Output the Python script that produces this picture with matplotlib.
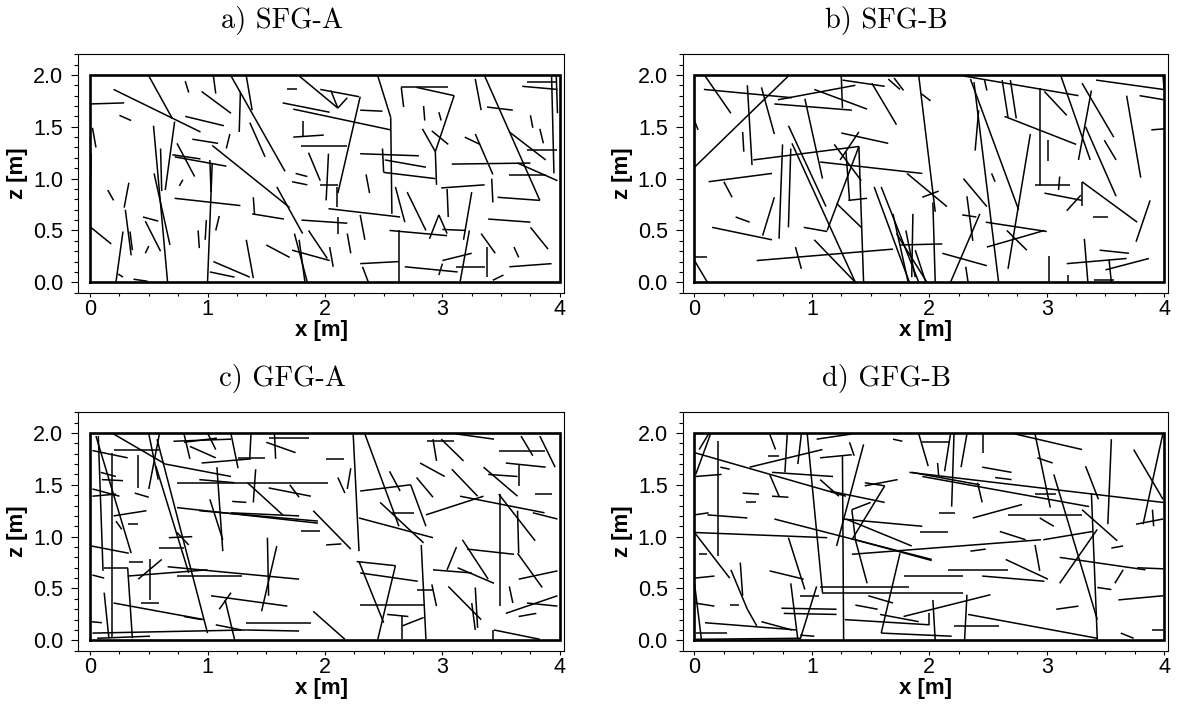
import numpy as np
import matplotlib
matplotlib.use("Agg")
import matplotlib.pyplot as plt
from matplotlib.collections import LineCollection
from matplotlib.ticker import MultipleLocator, FormatStrFormatter

plt.rcParams['font.family'] = ['Liberation Sans', 'DejaVu Sans']

# domain size [m]
domain_w = 4.0
domain_h = 2.0

titles = ["a) SFG-A", "b) SFG-B", "c) GFG-A", "d) GFG-B"]

# fracture traces: x0, z0, x1, z1  (m)
sfg_a = [
    [0.20, 1.86, 0.94, 1.45], [0.50, 1.99, 0.70, 1.58], [0.72, 1.55, 0.64, 0.89],
    [0.006, 1.72, 0.29, 1.73], [0.25, 1.61, 0.35, 1.56], [0.02, 1.49, 0.05, 1.30],
    [0.01, 1.24, 0.00, 0.79], [0.54, 1.51, 0.66, 0.0], [0.60, 1.29, 0.61, 0.88],
    [0.545, 1.05, 0.68, 0.36], [0.74, 1.34, 0.89, 1.02], [0.70, 1.23, 0.94, 1.19],
    [0.15, 0.89, 0.20, 0.79], [0.33, 0.96, 0.29, 0.72], [0.30, 0.70, 0.35, 0.26],
    [0.45, 0.63, 0.58, 0.59], [0.47, 0.59, 0.60, 0.30], [0.006, 0.53, 0.18, 0.37],
    [0.28, 0.49, 0.22, 0.0], [0.24, 0.08, 0.28, 0.05], [0.37, 0.03, 0.49, 0.01],
    [0.47, 0.28, 0.50, 0.35], [0.76, 0.93, 0.79, 0.99], [0.34, 0.49, 0.36, 0.31],
    [0.81, 1.60, 1.14, 1.51], [0.81, 1.94, 0.84, 1.83], [0.95, 1.84, 1.20, 1.63],
    [1.05, 1.99, 1.07, 1.82], [1.20, 1.99, 1.66, 1.07], [1.28, 1.84, 1.27, 1.45],
    [1.33, 1.99, 1.38, 1.66], [1.36, 1.54, 1.49, 1.21], [0.87, 1.38, 1.09, 1.34],
    [1.04, 1.32, 1.70, 0.72], [0.72, 1.21, 1.16, 1.12], [1.19, 1.43, 1.16, 1.29],
    [1.02, 1.18, 1.03, 0.87], [0.72, 0.81, 1.28, 0.74], [1.04, 1.15, 1.00, 0.0],
    [0.99, 0.60, 0.98, 0.41], [0.92, 0.50, 0.93, 0.33], [1.10, 0.64, 1.07, 0.50],
    [1.05, 0.20, 1.36, 0.05], [1.02, 0.10, 1.23, 0.05], [1.39, 0.82, 1.40, 0.66],
    [1.38, 0.66, 1.65, 0.61], [1.33, 0.41, 1.39, 0.04], [1.50, 0.36, 1.70, 0.24],
    [1.59, 0.92, 1.81, 0.47], [1.74, 0.47, 1.85, 0.0], [1.78, 0.41, 1.83, 0.0],
    [1.72, 0.31, 2.04, 0.21], [1.86, 0.50, 2.02, 0.23], [1.80, 0.60, 2.19, 0.57],
    [1.81, 1.56, 1.81, 1.40], [1.73, 1.40, 1.99, 1.42], [1.80, 1.31, 2.19, 1.31],
    [1.75, 1.05, 1.85, 1.02], [1.72, 0.97, 1.85, 0.94], [1.86, 1.25, 1.96, 0.98],
    [1.96, 0.94, 2.11, 0.94], [2.10, 0.92, 2.10, 0.73], [2.03, 1.24, 2.01, 0.79],
    [2.03, 0.71, 2.64, 0.63], [2.11, 0.63, 2.11, 0.47], [2.04, 0.34, 2.07, 0.15],
    [2.19, 0.47, 2.22, 0.28], [2.30, 0.65, 2.34, 0.41], [2.30, 1.24, 2.80, 1.22],
    [2.35, 1.04, 2.38, 0.86], [2.49, 1.29, 2.50, 1.06], [2.50, 1.06, 2.94, 1.00],
    [2.51, 1.18, 2.86, 1.11], [2.55, 0.50, 3.04, 0.45], [2.63, 0.50, 2.63, 0.0],
    [2.30, 0.18, 2.63, 0.20], [2.32, 0.15, 2.37, 0.0], [2.60, 0.92, 2.68, 0.58],
    [2.70, 0.87, 2.86, 0.50], [2.68, 0.15, 3.13, 0.10], [2.89, 0.42, 2.97, 0.65],
    [2.97, 0.65, 3.04, 0.47], [3.00, 0.51, 3.20, 0.50], [3.04, 0.90, 3.05, 0.63],
    [3.00, 0.21, 3.25, 0.28], [2.97, 0.07, 3.00, 0.18], [3.12, 0.15, 3.36, 0.15],
    [3.15, 0.0, 3.23, 0.50], [3.33, 0.47, 3.45, 0.28], [3.38, 0.34, 3.38, 0.05],
    [3.25, 0.87, 3.18, 0.41], [3.39, 0.61, 3.75, 0.58], [3.57, 0.15, 3.93, 0.18],
    [3.61, 0.34, 3.65, 0.24], [3.75, 0.53, 3.90, 0.32], [3.43, 0.02, 3.52, 0.07],
    [2.94, 1.26, 2.95, 0.94], [2.65, 1.88, 3.05, 1.88], [2.65, 1.88, 2.67, 1.69],
    [2.78, 1.88, 3.10, 1.80], [3.10, 1.80, 2.94, 1.26], [2.83, 1.48, 2.94, 1.26],
    [2.84, 1.70, 2.85, 1.56], [2.97, 1.64, 2.99, 1.56], [2.91, 1.46, 3.05, 1.33],
    [3.19, 1.40, 3.32, 1.33], [3.28, 1.43, 3.43, 1.04], [3.28, 1.96, 3.33, 1.66],
    [3.36, 1.99, 3.83, 0.79], [3.47, 0.82, 3.83, 0.79], [3.42, 1.00, 3.43, 0.77],
    [3.38, 1.69, 3.60, 1.66], [3.57, 1.45, 3.88, 1.18], [3.72, 1.28, 3.98, 1.28],
    [3.72, 1.93, 3.98, 1.93], [3.68, 1.89, 3.98, 1.86], [3.93, 1.99, 3.95, 1.05],
    [3.97, 1.99, 3.98, 1.63], [3.75, 1.61, 3.77, 1.49], [3.83, 1.48, 3.86, 1.34],
    [3.08, 1.14, 3.75, 1.15], [3.64, 1.15, 3.98, 0.98], [3.57, 1.03, 3.88, 1.03],
    [2.99, 0.91, 3.36, 0.94], [1.78, 1.99, 2.11, 1.68], [1.96, 1.86, 2.29, 1.79],
    [2.05, 1.85, 2.11, 1.68], [2.11, 1.68, 2.19, 1.78], [2.30, 1.79, 2.11, 0.86],
    [2.30, 1.66, 2.49, 1.65], [2.45, 1.99, 2.56, 1.59], [2.56, 1.59, 2.57, 0.66],
    [1.64, 1.73, 2.04, 1.64], [1.73, 1.67, 2.56, 1.47], [1.68, 1.86, 1.76, 1.86],
]

sfg_b = [
    [0.0, 1.11, 0.80, 1.99], [0.09, 1.99, 0.31, 1.63], [0.08, 1.86, 0.83, 1.78],
    [0.0, 1.56, 0.03, 1.47], [0.0, 0.24, 0.11, 0.24], [0.0, 0.21, 0.11, 0.0],
    [0.45, 1.90, 0.49, 1.13], [0.41, 1.45, 0.42, 1.26], [0.57, 1.88, 0.68, 1.43],
    [0.68, 1.72, 1.34, 1.66], [0.71, 1.76, 1.37, 1.90], [1.02, 1.86, 1.47, 1.67],
    [0.94, 1.77, 1.09, 1.00], [1.25, 1.99, 1.26, 1.68], [1.26, 1.95, 1.62, 1.89],
    [1.51, 1.92, 1.72, 1.52], [1.65, 1.96, 1.75, 1.86], [1.70, 1.97, 1.78, 1.85],
    [1.91, 1.99, 2.05, 0.68], [1.93, 1.82, 2.01, 1.75], [1.25, 1.44, 1.65, 1.34],
    [1.40, 1.45, 1.24, 1.18], [0.50, 1.18, 1.40, 1.31], [0.75, 1.33, 0.72, 0.42],
    [0.80, 1.51, 1.12, 0.73], [0.82, 1.29, 0.80, 0.53], [0.83, 1.34, 1.37, 0.0],
    [1.07, 1.16, 1.94, 1.05], [1.13, 0.50, 1.40, 1.31], [1.40, 1.31, 1.44, 0.0],
    [1.19, 1.33, 1.42, 0.98], [1.29, 1.26, 1.32, 0.79], [1.31, 0.79, 1.47, 0.81],
    [1.21, 0.76, 1.42, 0.53], [0.93, 0.53, 1.13, 0.49], [1.02, 0.41, 1.37, 0.0],
    [0.12, 0.97, 0.66, 1.05], [0.25, 0.97, 0.32, 0.82], [0.15, 0.53, 0.66, 0.41],
    [0.35, 0.63, 0.47, 0.58], [0.58, 0.45, 0.68, 0.82], [0.53, 0.21, 1.69, 0.32],
    [0.86, 0.34, 0.91, 0.13], [1.53, 0.92, 1.83, 0.0], [1.59, 0.92, 1.91, 0.0],
    [1.69, 0.66, 1.82, 0.0], [1.72, 0.47, 1.98, 0.0], [1.86, 0.66, 1.85, 0.05],
    [1.75, 0.36, 2.11, 0.37], [1.80, 0.50, 1.88, 0.05], [1.88, 0.31, 1.97, 0.0],
    [1.81, 1.05, 2.15, 0.73], [1.94, 0.82, 2.08, 0.88], [2.03, 0.77, 2.05, 0.0],
    [2.11, 0.28, 2.49, 0.16], [2.18, 0.0, 2.43, 0.66], [2.29, 1.00, 2.49, 0.73],
    [2.32, 0.83, 2.37, 0.40], [2.28, 0.65, 2.40, 0.63], [2.31, 0.15, 2.33, 0.0],
    [2.29, 1.99, 3.27, 1.80], [2.35, 1.96, 2.76, 0.70], [2.47, 1.95, 2.49, 1.85],
    [2.62, 1.95, 2.67, 1.59], [2.69, 1.95, 2.74, 1.58], [2.42, 1.66, 2.39, 1.27],
    [2.38, 1.93, 2.59, 0.0], [2.48, 0.58, 3.00, 0.49], [2.49, 0.34, 2.98, 0.50],
    [2.53, 1.05, 2.56, 0.97], [2.64, 1.60, 3.25, 1.33], [2.66, 0.50, 2.83, 0.31],
    [2.67, 0.13, 2.86, 1.43], [2.90, 0.94, 3.20, 0.94], [2.94, 1.87, 2.94, 0.94],
    [2.98, 1.84, 3.17, 1.61], [3.01, 1.37, 3.01, 1.17], [2.98, 0.86, 3.30, 0.79],
    [3.11, 1.02, 3.10, 0.89], [3.02, 0.25, 3.02, 0.0], [3.12, 1.99, 3.37, 1.18],
    [3.17, 0.69, 3.29, 0.84], [3.30, 1.92, 3.57, 1.40], [3.38, 1.85, 3.27, 1.18],
    [3.33, 1.50, 3.59, 0.83], [3.30, 0.97, 3.30, 0.74], [3.30, 0.97, 3.77, 0.58],
    [3.39, 0.63, 3.52, 0.63], [3.49, 1.37, 3.59, 1.18], [3.68, 1.80, 3.80, 1.01],
    [3.79, 1.80, 4.0, 1.76], [3.42, 1.95, 3.99, 1.86], [3.89, 1.47, 4.0, 1.48],
    [3.99, 1.99, 4.0, 1.85], [3.76, 0.39, 3.88, 0.79], [3.32, 0.42, 3.35, 0.0],
    [3.17, 0.18, 3.68, 0.23], [3.45, 0.31, 3.70, 0.28], [3.50, 0.12, 3.87, 0.23],
    [3.53, 0.22, 3.55, 0.0], [3.40, 0.02, 3.57, 0.02], [3.18, 0.07, 3.18, 0.0],
]

gfg_a = [
    [0.07, 1.97, 0.11, 0.67], [0.05, 1.97, 0.35, 0.84], [0.02, 1.83, 0.32, 1.76],
    [0.20, 1.99, 0.64, 1.70], [0.20, 1.84, 0.59, 1.84], [0.19, 1.81, 0.19, 0.02],
    [0.50, 1.99, 0.58, 1.55], [0.59, 1.99, 0.50, 1.46], [0.57, 1.94, 1.00, 0.07],
    [0.56, 1.68, 0.84, 0.65], [0.64, 1.70, 1.20, 1.58], [0.41, 1.79, 0.41, 1.47],
    [0.71, 1.92, 1.20, 1.94], [0.80, 1.99, 0.85, 1.75], [0.80, 1.91, 1.08, 1.95],
    [0.85, 1.87, 1.07, 1.76], [0.95, 1.71, 1.37, 1.75], [1.00, 2.0, 1.07, 1.84],
    [1.20, 1.99, 1.26, 1.66], [1.37, 1.99, 1.36, 1.76], [1.26, 1.76, 1.49, 1.76],
    [1.50, 1.91, 1.75, 1.81], [1.52, 1.95, 1.86, 1.95], [1.57, 1.99, 1.58, 1.75],
    [1.08, 1.67, 1.13, 0.86], [0.93, 1.55, 1.23, 1.52], [0.74, 1.52, 2.03, 1.52],
    [1.34, 1.52, 1.64, 1.21], [1.41, 1.65, 1.39, 1.33], [1.70, 1.50, 1.78, 1.38],
    [1.52, 1.47, 1.88, 1.39], [1.21, 1.34, 1.33, 1.33], [0.74, 1.28, 1.94, 1.13],
    [0.93, 1.25, 1.94, 1.15], [1.02, 1.36, 1.13, 0.97], [1.20, 1.23, 1.78, 1.20],
    [1.90, 1.25, 2.22, 0.88], [1.80, 1.05, 1.96, 1.05], [2.01, 0.92, 2.14, 0.93],
    [2.01, 1.75, 2.16, 1.75], [2.11, 1.57, 2.17, 1.42], [2.24, 2.0, 2.29, 0.86],
    [2.34, 1.99, 2.63, 1.10], [2.22, 1.66, 2.19, 1.46], [2.30, 1.44, 2.73, 1.50],
    [2.29, 1.18, 2.92, 0.99], [2.47, 1.33, 2.84, 0.94], [2.55, 1.63, 2.64, 1.44],
    [2.56, 1.23, 2.76, 1.23], [2.73, 1.50, 2.86, 1.10], [2.81, 1.71, 3.02, 1.58],
    [2.78, 1.57, 2.92, 1.38], [2.92, 1.94, 2.95, 1.73], [2.87, 1.92, 3.10, 1.92],
    [3.12, 1.99, 3.44, 1.94], [2.99, 1.94, 3.18, 1.73], [2.86, 1.21, 3.35, 1.39],
    [3.15, 1.39, 3.87, 1.23], [3.08, 1.65, 3.30, 1.39], [3.35, 1.67, 3.64, 1.39],
    [3.39, 1.60, 3.64, 1.58], [3.48, 1.41, 3.79, 0.96], [3.77, 1.23, 3.98, 1.17],
    [3.67, 1.97, 3.77, 1.78], [3.48, 1.83, 3.87, 1.83], [3.54, 1.71, 3.88, 1.67],
    [3.83, 1.97, 3.96, 1.67], [3.65, 1.70, 3.65, 1.49], [3.79, 1.41, 3.93, 1.41],
    [3.64, 1.25, 3.65, 0.84], [3.64, 0.84, 3.85, 0.51], [3.65, 0.59, 3.98, 0.67],
    [3.49, 1.41, 3.49, 0.33], [3.17, 0.97, 3.39, 0.59], [3.21, 0.88, 3.61, 0.83],
    [3.04, 0.68, 3.12, 0.90], [2.92, 0.68, 3.25, 0.65], [3.13, 0.70, 3.44, 0.55],
    [3.05, 0.52, 3.33, 0.20], [3.25, 0.36, 3.28, 0.10], [3.28, 0.51, 3.30, 0.12],
    [3.54, 0.26, 3.98, 0.43], [3.65, 0.23, 3.80, 0.26], [3.72, 0.36, 3.98, 0.33],
    [3.44, 0.10, 3.83, 0.01], [3.43, 0.10, 3.43, 0.0], [2.82, 0.92, 2.86, 0.01],
    [2.78, 0.49, 2.92, 0.49], [2.91, 0.54, 2.95, 0.33], [2.66, 0.23, 2.66, 0.01],
    [2.66, 0.14, 2.84, 0.22], [2.30, 0.34, 2.84, 0.34], [2.29, 0.76, 2.50, 0.17],
    [2.60, 0.72, 2.45, 0.01], [2.30, 0.65, 2.79, 0.57], [2.27, 0.76, 2.60, 0.72],
    [2.53, 0.25, 2.71, 0.23], [1.90, 0.28, 2.17, 0.01], [1.33, 0.17, 1.88, 0.17],
    [1.33, 0.10, 1.78, 0.09], [1.07, 0.15, 1.29, 0.10], [1.51, 0.99, 1.52, 0.43],
    [1.59, 0.91, 1.46, 0.28], [1.03, 0.43, 1.68, 0.33], [0.66, 0.71, 1.78, 0.59],
    [0.74, 0.62, 1.29, 0.62], [1.20, 0.46, 1.10, 0.30], [1.15, 0.39, 1.23, 0.01],
    [0.41, 0.59, 0.61, 0.78], [0.32, 0.62, 1.00, 0.68], [0.20, 0.36, 0.97, 0.20],
    [0.43, 0.36, 0.59, 0.36], [0.80, 0.23, 0.95, 0.20], [0.12, 0.46, 0.16, 0.02],
    [0.32, 0.70, 0.36, 0.02], [0.12, 0.70, 0.32, 0.70], [0.02, 0.63, 0.12, 0.60],
    [0.01, 0.18, 0.10, 0.17], [0.02, 0.07, 1.33, 0.10], [0.06, 0.02, 0.51, 0.04],
    [0.01, 0.91, 0.33, 0.84], [0.33, 0.76, 0.45, 0.76], [0.51, 0.78, 0.51, 0.39],
    [0.59, 0.89, 0.80, 0.89], [0.20, 1.20, 0.48, 1.25], [0.32, 1.12, 0.41, 1.12],
    [0.22, 1.15, 0.27, 1.07], [0.02, 1.46, 0.25, 1.39], [0.02, 1.39, 0.22, 1.41],
    [0.09, 1.62, 0.22, 1.58], [0.10, 1.55, 0.28, 1.54], [0.38, 1.42, 0.50, 1.38],
    [0.67, 0.99, 0.87, 1.00], [0.74, 1.04, 0.84, 0.92], [3.57, 0.52, 3.60, 0.36],
]

gfg_b = [
    [0.0, 1.81, 1.29, 1.39], [0.0, 1.04, 1.13, 0.99], [0.0, 1.04, 0.30, 0.60],
    [0.01, 1.60, 0.14, 2.0], [0.04, 1.84, 0.12, 1.99], [0.20, 1.92, 0.20, 0.81],
    [0.01, 1.58, 0.23, 1.60], [0.0, 1.21, 0.12, 1.23], [0.04, 0.83, 0.11, 0.83],
    [0.0, 0.60, 0.17, 0.62], [0.0, 0.55, 0.06, 0.0], [0.0, 0.36, 0.17, 0.33],
    [0.01, 0.07, 0.28, 0.07], [0.09, 0.17, 0.87, 0.10], [0.31, 0.68, 0.45, 0.30],
    [0.39, 0.75, 0.41, 0.43], [0.45, 0.30, 0.53, 0.14], [0.47, 1.67, 1.09, 1.84],
    [0.66, 1.62, 1.18, 1.58], [0.64, 1.60, 0.72, 1.39], [0.22, 1.67, 0.30, 1.65],
    [0.41, 1.42, 0.55, 1.41], [0.44, 1.33, 0.52, 1.33], [0.66, 1.39, 0.80, 1.38],
    [0.64, 1.99, 0.69, 1.84], [0.79, 1.99, 0.77, 1.62], [0.91, 1.99, 0.88, 1.70],
    [0.96, 1.99, 1.09, 0.46], [1.04, 1.94, 1.34, 1.99], [1.07, 1.76, 1.34, 1.79],
    [1.07, 1.55, 1.23, 1.39], [1.07, 0.51, 1.83, 0.51], [1.09, 0.46, 2.29, 0.46],
    [1.15, 1.44, 1.62, 1.33], [1.26, 1.78, 1.27, 0.0], [1.26, 1.17, 1.94, 1.10],
    [1.29, 1.17, 1.85, 0.91], [1.37, 0.97, 1.47, 0.55], [1.21, 0.91, 1.44, 1.89],
    [1.34, 0.97, 1.62, 1.49], [1.34, 1.26, 1.37, 0.97], [1.34, 1.26, 1.50, 1.33],
    [1.45, 1.52, 1.62, 1.49], [1.45, 1.49, 1.73, 1.55], [1.34, 0.83, 2.95, 0.97],
    [1.37, 0.97, 2.02, 0.77], [1.32, 1.91, 1.36, 1.78], [1.85, 1.62, 2.43, 1.50],
    [1.94, 1.58, 3.36, 1.29], [1.83, 1.62, 3.99, 1.33], [1.91, 1.99, 1.99, 1.68],
    [1.94, 1.91, 2.18, 1.91], [2.07, 1.71, 2.08, 1.58], [2.18, 1.99, 2.13, 1.63],
    [2.21, 1.99, 2.19, 1.29], [2.32, 1.99, 2.27, 1.67], [2.46, 1.99, 2.46, 1.81],
    [2.45, 1.67, 2.70, 1.62], [2.56, 1.57, 2.70, 1.55], [2.41, 1.52, 2.45, 1.33],
    [2.08, 1.23, 2.22, 1.23], [2.37, 1.18, 2.79, 1.31], [1.92, 1.04, 2.16, 1.04],
    [2.35, 0.86, 2.48, 0.88], [2.16, 0.68, 2.67, 0.68], [2.45, 0.62, 2.98, 0.57],
    [1.78, 0.62, 2.29, 0.62], [2.65, 0.78, 3.01, 0.59], [2.60, 1.05, 2.82, 0.97],
    [2.67, 1.21, 3.30, 1.21], [2.73, 1.99, 3.30, 1.84], [2.90, 1.99, 3.03, 1.28],
    [2.92, 1.76, 3.05, 1.71], [2.90, 1.41, 3.08, 1.41], [2.94, 1.18, 3.06, 1.10],
    [2.90, 0.92, 2.94, 0.67], [3.06, 1.60, 3.43, 0.20], [3.11, 0.55, 3.43, 1.07],
    [2.97, 0.97, 3.39, 1.05], [3.11, 0.80, 3.84, 0.68], [3.30, 1.26, 3.60, 0.96],
    [3.33, 1.68, 3.44, 1.36], [3.38, 1.42, 3.43, 0.01], [3.55, 1.94, 3.52, 1.12],
    [3.74, 1.84, 3.99, 1.36], [3.76, 1.12, 3.99, 1.17], [3.90, 1.26, 3.91, 1.10],
    [3.82, 1.12, 3.99, 2.0], [3.55, 0.89, 3.65, 0.91], [3.77, 0.70, 3.99, 0.69],
    [3.61, 0.39, 3.99, 0.43], [3.58, 0.55, 3.65, 0.68], [3.43, 0.51, 3.55, 0.49],
    [3.63, 0.07, 3.74, 0.02], [3.90, 0.10, 3.99, 0.10], [3.08, 0.30, 3.27, 0.33],
    [2.33, 0.25, 3.43, 0.02], [2.32, 0.44, 2.30, 0.0], [1.78, 0.23, 2.52, 0.44],
    [2.03, 0.39, 2.05, 0.0], [2.21, 0.14, 2.59, 0.14], [1.59, 0.07, 1.75, 0.84],
    [1.59, 0.07, 2.19, 0.04], [1.28, 0.20, 2.00, 0.15], [2.00, 0.26, 2.00, 0.15],
    [1.37, 0.34, 1.56, 0.30], [1.58, 0.25, 1.91, 0.18], [1.48, 0.43, 1.69, 0.36],
    [0.74, 0.31, 1.21, 0.30], [0.76, 0.26, 1.21, 0.25], [0.82, 0.55, 0.88, 0.01],
    [0.90, 0.01, 1.04, 0.52], [0.90, 0.05, 1.02, 0.04], [0.90, 0.43, 1.06, 0.43],
    [0.57, 0.18, 0.83, 0.10], [0.64, 0.67, 0.93, 0.59], [0.80, 0.99, 0.94, 0.49],
    [0.68, 1.17, 2.02, 0.78], [0.11, 1.21, 0.45, 1.18], [0.30, 0.34, 0.38, 0.34],
    [1.69, 1.94, 1.77, 1.92], [0.63, 1.78, 0.72, 1.78], [0.0, 0.01, 0.90, 0.02],
]

networks = [sfg_a, sfg_b, gfg_a, gfg_b]

fig = plt.figure(figsize=(11.8, 7.08), dpi=100)
lefts = [0.0664, 0.5786, 0.0664, 0.5786]
bottoms = [0.5866, 0.5866, 0.0809, 0.0809]

for i in range(4):
    ax = fig.add_axes([lefts[i], bottoms[i], 0.4115, 0.3369])
    segs = np.array(networks[i], dtype=float).reshape(-1, 2, 2)
    ax.add_collection(LineCollection(segs, colors='black', linewidths=1.1))
    ax.plot([0, domain_w, domain_w, 0, 0], [0, 0, domain_h, domain_h, 0],
            color='black', lw=1.9, solid_joinstyle='miter')
    ax.set_xlim(-0.1, 4.035)
    ax.set_ylim(-0.1, 2.2)
    for s in ax.spines.values():
        s.set_linewidth(0.8)
    ax.xaxis.set_major_locator(MultipleLocator(1))
    ax.xaxis.set_minor_locator(MultipleLocator(0.25))
    ax.yaxis.set_major_locator(MultipleLocator(0.5))
    ax.yaxis.set_minor_locator(MultipleLocator(0.1))
    ax.yaxis.set_major_formatter(FormatStrFormatter('%.1f'))
    ax.tick_params(axis='x', which='major', direction='out', length=3.2, width=0.8,
                   labelsize=15.5, pad=1.5)
    ax.tick_params(axis='x', which='minor', direction='out', length=2, width=0.8)
    ax.tick_params(axis='y', which='major', direction='out', length=4.8, width=0.8,
                   labelsize=15.5, pad=6)
    ax.tick_params(axis='y', which='minor', direction='out', length=3.1, width=0.8)
    ax.set_xlabel('x [m]', fontsize=16, fontweight='bold', va='center')
    ax.xaxis.set_label_coords(0.5, -0.16)
    ax.set_ylabel('z [m]', fontsize=16, fontweight='bold', va='center')
    ax.yaxis.set_label_coords(-0.125, 0.5)
    ax.text(0.42, 1.143, titles[i], transform=ax.transAxes, ha='center',
            va='center', fontsize=20.5, family='cmr10')

plt.savefig('out.png', dpi=100)
